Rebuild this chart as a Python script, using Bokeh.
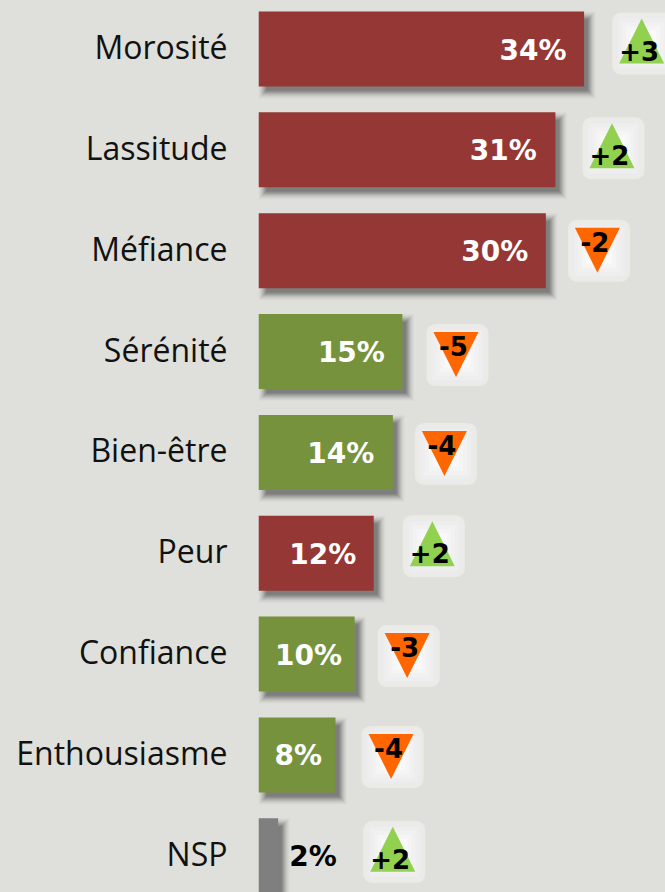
from bokeh.plotting import figure
from bokeh.models import Range1d, FixedTicker
from bokeh.core.properties import value
from bokeh.embed import file_html
from bokeh.resources import INLINE

# --- data ---
categories = ["Morosité", "Lassitude", "Méfiance", "Sérénité", "Bien-être",
              "Peur", "Confiance", "Enthousiasme", "NSP"]
values = [34, 31, 30, 15, 14, 12, 10, 8, 2]
changes = [3, 2, -2, -5, -4, 2, -3, -4, 2]
bar_groups = ["neg", "neg", "neg", "pos", "pos", "neg", "pos", "pos", "none"]

# --- style / layout (pixels relative to the data anchor) ---
group_colors = {"neg": "#953735", "pos": "#76923c", "none": "#7f7f7f"}
label_colors = ["white"] * 8 + ["black"]
label_dx = [-17, -18, -17, -17, -18, -17, -12, -13, 59]
badge_dx = [28, 27, 22, 24, 22, 29, 23, 26, 85]
badge_dy = [-5.5, -1.5, 0, 3.5, 1.5, -7, 2, 2, -4]
BG = "#dfe0db"
W, H = 665, 892
LEFT = 258.5
PX_X = 9.55       # pixels per percentage point
PX_Y = 100.85     # pixels per row
FIRST = 48.5      # centre of first row in pixels
BAR_PX = 75
BADGE = 62

n = len(values)
idx = list(range(n))
dx = lambda px: px / PX_X
dy = lambda px: px / PX_Y

p = figure(width=W, height=H, output_backend="svg", toolbar_location=None,
           x_range=Range1d(0, (W - LEFT) / PX_X),
           y_range=Range1d((H - FIRST) / PX_Y, -FIRST / PX_Y),
           min_border_left=int(LEFT), min_border_right=0, min_border_top=0, min_border_bottom=0,
           background_fill_color=BG, border_fill_color=BG, outline_line_color=None)
p.grid.visible = False
p.xaxis.visible = False
ax = p.yaxis[0]
tick_pos = [i - 0.025 for i in idx]
ax.ticker = FixedTicker(ticks=tick_pos)
ax.major_label_overrides = {t: c for t, c in zip(tick_pos, categories)}
ax.axis_line_color = None
ax.major_tick_line_color = None
ax.minor_tick_line_color = None
ax.major_label_standoff = 25
ax.major_label_text_font = "Open Sans"
ax.major_label_text_font_size = "32px"
ax.major_label_text_color = "#111111"

half = BAR_PX / 2
# soft shadows
for grow, alpha in [(6, .03), (5, .04), (4, .05), (3, .07), (2, .09), (1, .11), (0, .13), (-1, .13), (-2, .13)]:
    p.quad(left=[dx(6 - grow) for _ in idx],
           right=[v + dx(6 + grow) for v in values],
           top=[i - dy(half - 6 + grow) for i in idx],
           bottom=[i + dy(half + 6 + grow) for i in idx],
           fill_color="#333333", fill_alpha=alpha, line_color=None)

# bars
p.quad(left=[0] * n, right=[v + dx(0.5) for v in values],
       top=[i - dy(half) for i in idx], bottom=[i + dy(half) for i in idx],
       fill_color=[group_colors[g] for g in bar_groups], line_color=None)

# value labels
p.text(x=[v + dx(d) for v, d in zip(values, label_dx)],
       y=[i + dy(1) for i in idx],
       text=[f"{v}%" for v in values],
       text_color=label_colors, text_align="right", text_baseline="middle",
       text_font=value("DejaVu Sans"), text_font_style="bold", text_font_size="28px")

# badges
bx = [v + dx(d + 0.5 + BADGE / 2) for v, d in zip(values, badge_dx)]
by = [i + dy(d) for i, d in zip(idx, badge_dy)]
for inset, col in [(0, "#ecebe3"), (2, "#ebebeb"), (6, "#eeeeee"), (10, "#f1f1f1"),
                   (14, "#f5f5f5"), (18, "#f9f9f9"), (22, "#fcfcfc")]:
    hb = BADGE / 2 - inset
    p.quad(left=[x - dx(hb) for x in bx], right=[x + dx(hb) for x in bx],
           top=[y - dy(hb) for y in by], bottom=[y + dy(hb) for y in by],
           fill_color=col, line_color=None, border_radius=max(9 - inset, 0))

# triangles
xs, ys, cols = [], [], []
for x, y, c in zip(bx, by, changes):
    cx = x - dx(1.5)
    if c > 0:
        xs.append([cx, cx - dx(22.5), cx + dx(22.5)])
        ys.append([y - dy(25), y + dy(20), y + dy(20)])
        cols.append("#92d050")
    else:
        xs.append([cx - dx(22.5), cx + dx(22.5), cx])
        ys.append([y - dy(23), y - dy(23), y + dy(22)])
        cols.append("#ff6600")
p.patches(xs, ys, fill_color=cols, line_color=None)

# change labels
p.text(x=[x - dx(4) for x in bx],
       y=[y + dy(7 if c > 0 else -9) for y, c in zip(by, changes)],
       text=[f"{c:+d}" for c in changes],
       text_color="black", text_align="center", text_baseline="middle",
       text_font=value("DejaVu Sans"), text_font_style="bold", text_font_size="26px")

html = file_html(p, INLINE)
html = html.replace("<body>", f'<body style="margin:0;background:{BG}">')
open("out.html", "w").write(html)
